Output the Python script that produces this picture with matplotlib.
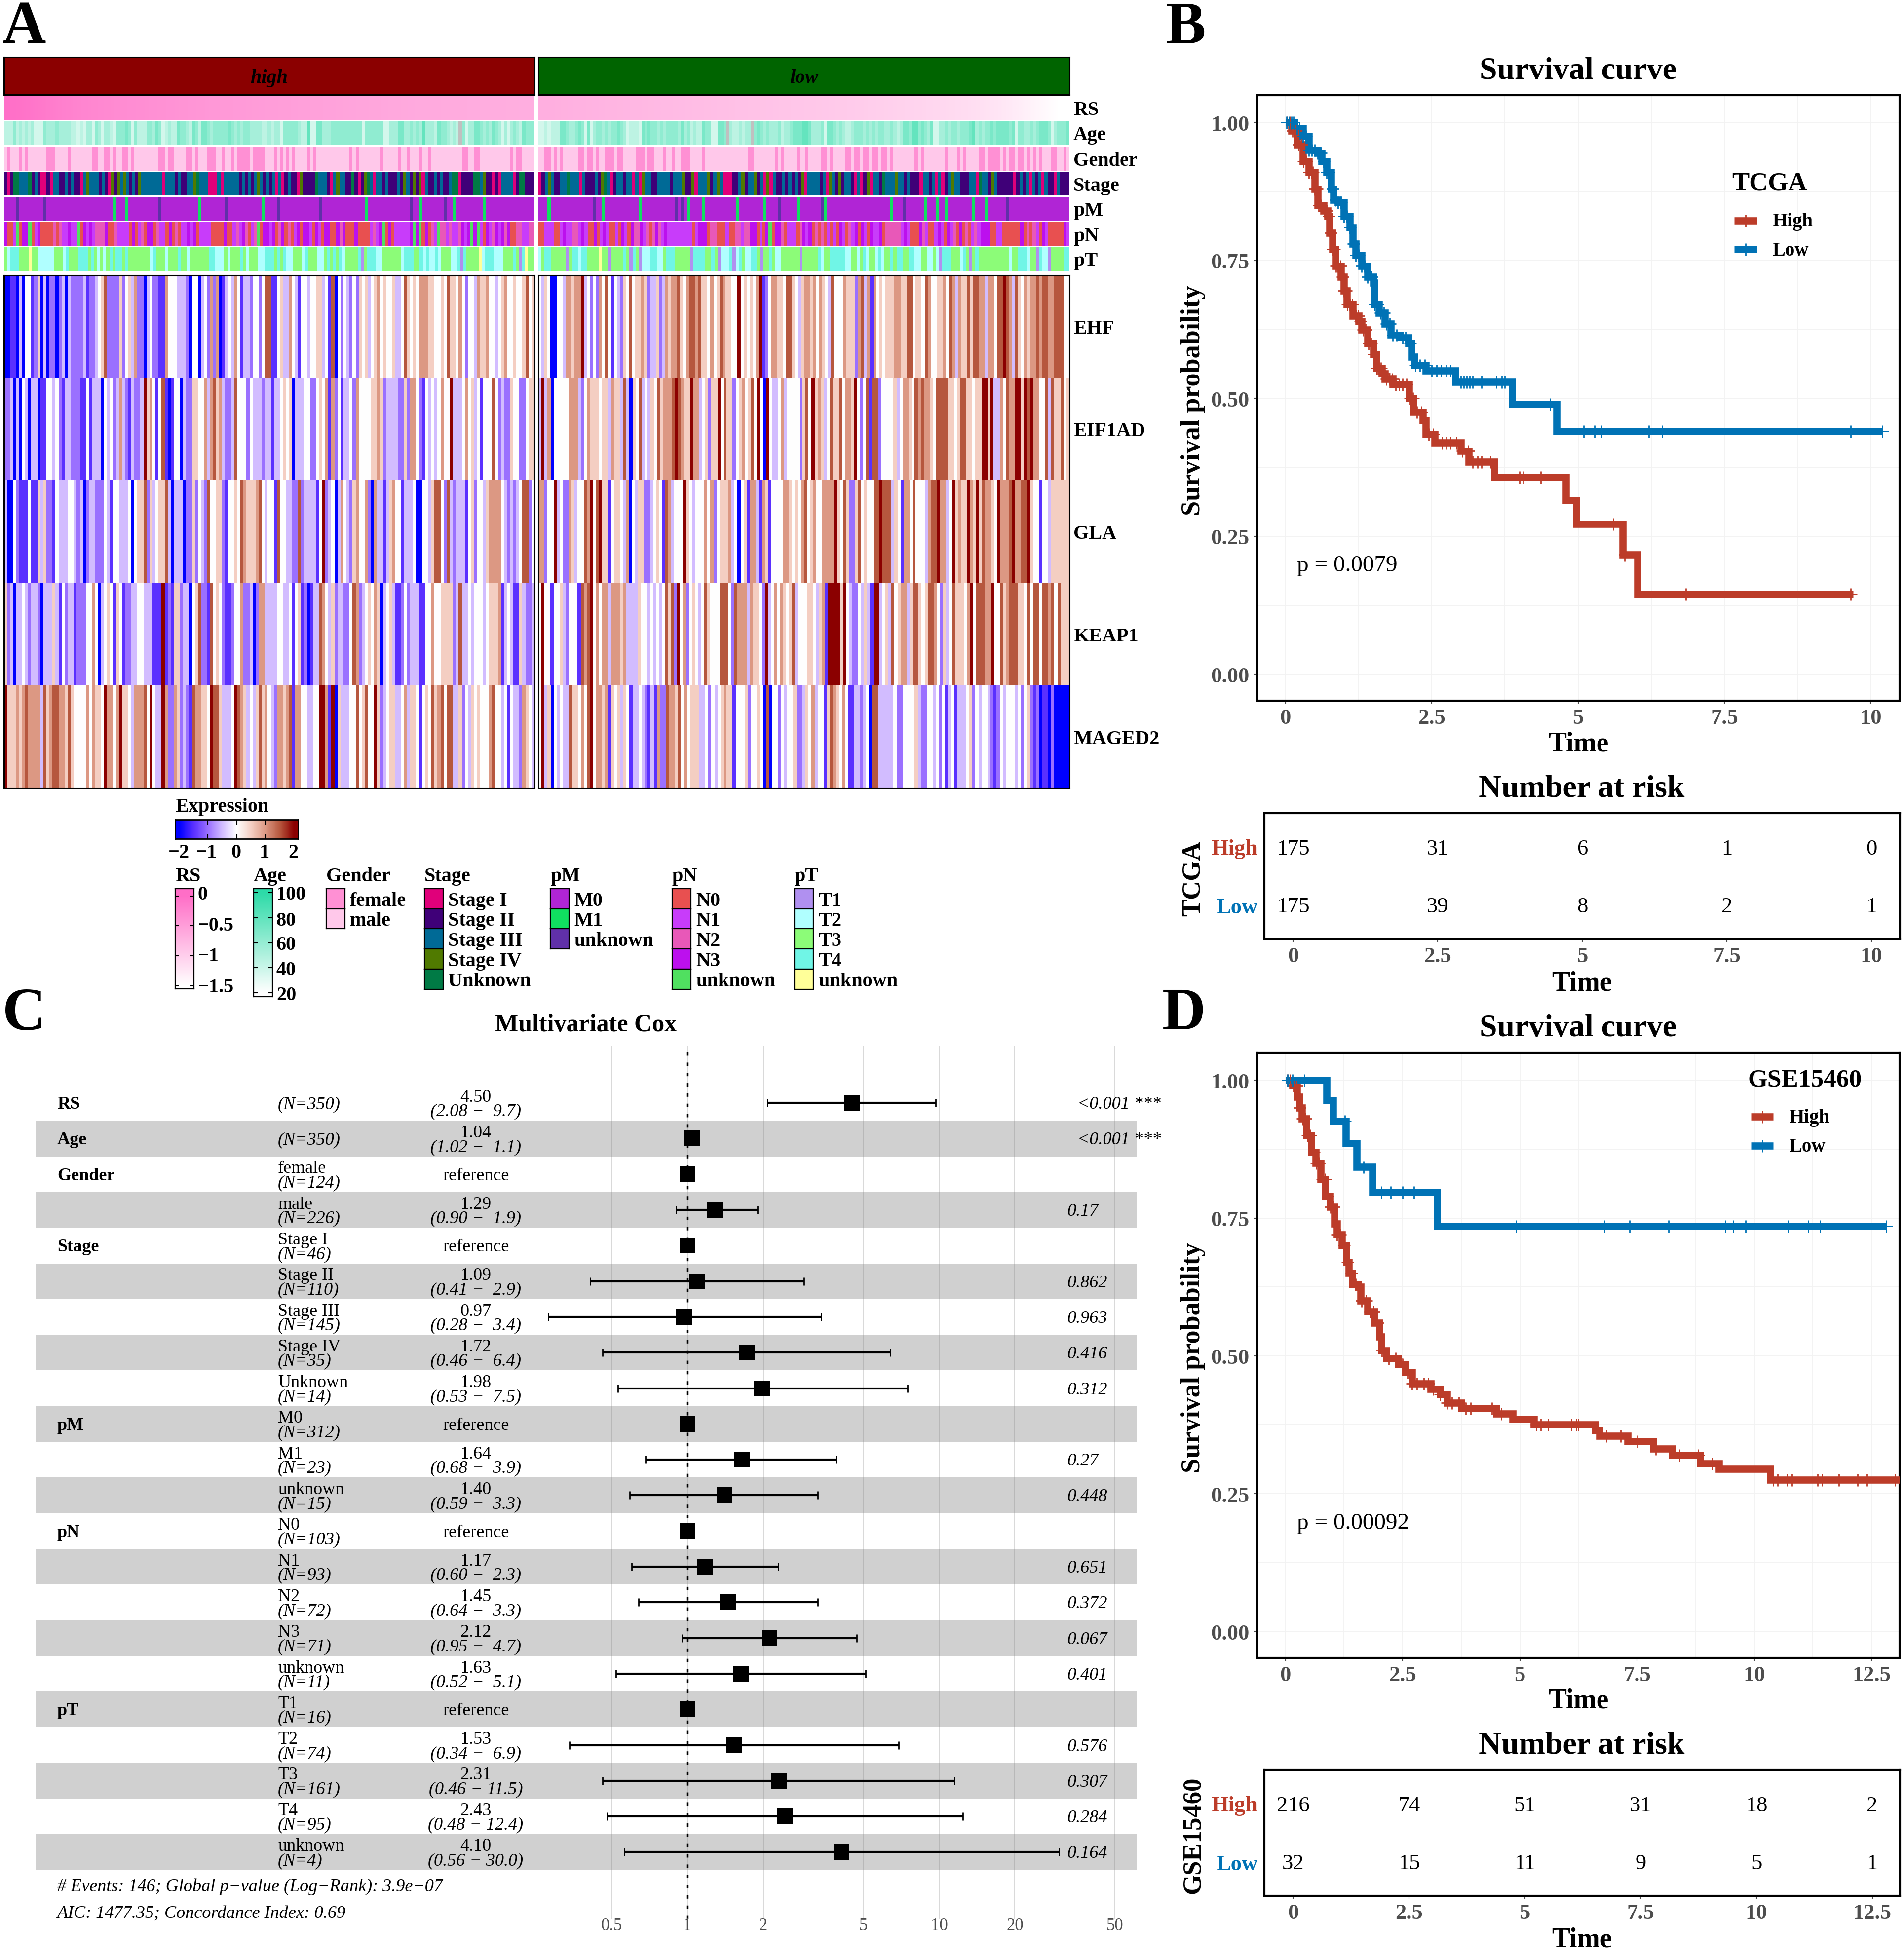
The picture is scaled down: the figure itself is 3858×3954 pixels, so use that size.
import numpy as np
import matplotlib
matplotlib.use('Agg')
import matplotlib.pyplot as plt
from matplotlib.colors import LinearSegmentedColormap, ListedColormap, Normalize
from matplotlib.lines import Line2D

W, H = 3858, 3955
plt.rcParams['font.family'] = ['Liberation Serif', 'DejaVu Serif']

# expression levels per sample, 0..8 means -2..2 in steps of 0.5
ehf_high = ("0011 0 3 0 44 12 5 0 3 0 22 0 2 3 0 3 2222 3 1 22 3 4 5 7 2222 5 2 4 5 3 6 22 0 3 4 22 11 6 4 44 3332 0 44 0 3 4 2 6 2 6 0 1 3 4 3 6 4 1 33 2 4 4 2 4 77"
            "1 1 4 5 33 6 4 3 1 44 3 4 4 5 5 3 4 1 7 0 4 2 4 3 2 4 2 5 4 5 3 4 5 6 4 5 44 5 33 4 7 5 4 5 4 6 66 55 4 4 5 4 7 5 5 4 6 4 2 4 4 3 6 5 5 6 4 4 34 5 6 44 54 4 5 7 45")
eif1ad_high = ("22 3 0 3 0 4 3 0 3 3 0 1 1 4 43 4 2 1 3 3 2 22 11 4 1 33 3 0 4 3 4 2 3 6 3 2 1 3 22 3 8 5 6 4 1 4 7 1 0 1 44 0 32 2 554 4 6 3 6 7 5 6 3 22 3 7 44 4 2 43 33 233"
               "1 33 4 5 4 5 0 33 3 44 22 4 5 4 6 1 6 2 4 1 3 3 4 2 6 4 4 4 4 5 56 5 2 3 3332 2 5 2 66 4 2 1 4 3 4 34 6 4 4 8 333 4 6 4 5 3 4 1 4 4 4 7 4 2 3 22 5 4 4 22 4 55")
gla_high = ("3 00 4 2 11 1 4 11 5 3 5 22 1 4 33 34 4 3 2 3 0 2 33 222 4 3 1 44 3 33 4 0 4 5 5 7 2 5 3 4 5 5 7 3 0 333 0 22 5 2 4 32 7 445 5 2 1 44 54 76 555 6 7 4 3 4"
            "4 1 7 4 43 3 22 7 2 3 333 1 4 8 23 4 0 3 6 43 2 5 6 44 6 2 0 6 3 3 1 3 5 6 44 1 33 3 4 00 4 4 3 5 77 4 2 7 3 2 33 3 1 45 2 4 4 3 5 6 666 4 3 2 3 2 3 4 77 2 4")
keap1_high = ("5 2 3 0 3 3 4 32332 0 33 3 5 3 1 4 2 33 1 222 44 6 4 0 3 4 5 4 1 5 4 122 33 443 33 111 8 1 2 1 55 2 33 0 4 5 7 221 7 454 2112 44 6 22 3 0 2 66 33"
              "3 3 44 33 4 1 4 5 12 0 1 3 3 7 6 4 3 5 2 33 22 4 7 6 2 3 4 5 4 6 5 0 3 4 5 3 112 4 233 3 11 44 6 44 5555 2 3 7 33 4 3 44 4 34 55 5 6 1 3 4 3 11 5 3 223")
maged2_high = ("8 555 6 5 6 7 666 6 3 7 5 6 7 7 66 5 7 5 4444 6 4 6 5 5 4 8 66 4 6 8 55 4 3 66 6 7 4 8 4 33 8 6 22 65 2 3 2 1 7 66 55 4 8 77 5 333 4 8 7 6 5 3 4 3 5 7 5 6 4"
               "3 2 6 6 56 7 1 66 44 33 44 88 6 1 8 0 5 3334 4 7 4 5 7 44 8 5 2 3 4 5 5 33 4 6 3 55 4 1 4 5 4 7 5 6 7 4 77 33 5 2 4 3 5 4 5 44 4 6 7 44 3 4 1 4 33 2 6 5 43")
ehf_low = ("4 3 5 4 00 4 43 66 5 66 8 3 4 2 4 2 6 4 7 4 1 4 3 2 5 4 7 4 5 5 6 5 2 33 5 23 6 5 6 6 7 5 4 67 767 55 4 6 4 5 7 6 55 4 4 8 4 5 4 5 4 6 8 1 2 4 66 5 5 4 77 5 435"
           "6 6 5 6 4 6 5 4 3 7 444 6 5 55 2 6 7 3 6 1 6 4 5 4 55 5 6 6 55 77 4 5 5 4 7 6 44 5 5 6 4 76 3 6 55 7 5 77 66 3 66 4 77 8 7 6 3 7 5 4 6 5 66 7 6 77 66 7 77 44")
eif1ad_low = ("3 8 3 6 0 44 444 6 6 6 3 2 4 65 5 5 4 55 3 6 55 3 7 3 0 5 4 7 3 4 3 54 7 5 666 7 8 7 6 55 8 66 34 5 2 55 8 4 7 55 2 4 5 6 4 5 7 4 8 4 0 8 4 3 3 4 6 3 4444 25"
              "7 4 8 5 6 5 3 4 7 5 5 7 4 66 5 8 4 2 4 7 1 77 2 444 4 5 3 4 66 5 4 7 6 7 665 4 7777 5 54 5 77 55 4 55 8 8 5 8 33 6 4 7 66 88 5 8 7 8 66 4 4 7 3 7 55 7 45")
gla_low = ("6 6 2 44 8 3 4 22 6 5 3 44 7 6 8 4 7 8 55 1 4 5 5 4 3 6 0 4 3 55 22 34 5 4 1 76 3 4 44 8 5 4 3 444 6 4 6 2 4 555 6 3 4 0 4 5 1 66 3 1 65 1 4 44 4 66 5 4 5 4 6"
           "7 4 5 6 44 6 666 8 5 4 7 5 22 5 7 45 44 77 8 777 3 5 4 1 66 4 7 444 3 677 8 66 3 4 8 5 6 55 8 6 5 8 5 7 66 5 4 8 666 7 8 66 7 7 8 5 4 4 1 44 3 5 55555")
keap1_low = ("4 8 44 1 44 53 2 444 1 7 6 7 8 4 6 4 66 3 6 66 5 6 333 3 5 44 3 4 3 4 3 4 7 5 7 2 8 4 6 2 4 5 4 3 4 7 5 4 44 777 4 2 76 66 3 6 55 4 2 8 3 4 6 4 6 5 4 5 7 3 44"
             "4 55 4 3 56 1 88 88 5 8 4 3 22 43 5 3 1 88 3 4 5 3 7 4 5 66 3 5 7 7 5 4 5 77 6 4 2 5 3 4 7 55 5 4 6 8 4 777 66 8 44 7 5 6 777 5 5 4 7 4 77 4 77 6 7 4 7 555")
maged2_low = ("4 8 3 5 0 4 3 4 33 7 5 5 4 6 4 7 8 4 66 5 6 1 5 4 5 3 5 4 1 33 4 3 2 1 3 1 6 22 7 66 5 7 4 6 4 5 55 33 4 2 4 3 4 5 6 55 1 444 5 2 4 4 5 4 0 7 0 44 2 4 3 445 223"
              "5 4 6 3 44 1 5 7 6 5 4 6 4 11 33 2 3 4 0 77 3 3 333 4 22 4444 5 3 22 44 3 4 2 4 1 3 4 1 33 3 45 2 4 3 44 3 2 1 2 4 3 44 4 3 4 2 45 2 1 2 0 11 0 2 00000")
genes = ['EHF', 'EIF1AD', 'GLA', 'KEAP1', 'MAGED2']
heat_high = [ehf_high, eif1ad_high, gla_high, keap1_high, maged2_high]
heat_low = [ehf_low, eif1ad_low, gla_low, keap1_low, maged2_low]

rs_high = [-0.03, -0.1, -0.18, -0.24, -0.28, -0.32, -0.35, -0.38, -0.41, -0.44, -0.46, -0.48,
           -0.5, -0.52, -0.54, -0.56, -0.58, -0.6, -0.62, -0.63, -0.64, -0.65, -0.66, -0.67]
rs_low = [-0.68, -0.7, -0.72, -0.74, -0.76, -0.78, -0.8, -0.82, -0.84, -0.86, -0.88, -0.9, -0.92,
          -0.94, -0.96, -0.99, -1.02, -1.05, -1.08, -1.12, -1.16, -1.22, -1.3, -1.4, -1.5]
# age in decades, x = missing
age_high = "555 7 5 65656 444 7666766 665 545 4 66 4 76 4 66 54 77787 4 7 5 55 77687 4 56 55 8 776 5 87 5 88 76777 7787 6767 76666 55 6566 4 77777 655 9 44 88 666 7777777777 4 777777 44 666 88 667676 9 6665 877 6565 x 74 66 887 676876 4 6 4 6765 8777"
age_low = "44 545 55 887 66 787 4 8 4 67 767677876 4 55 54 878776 7677776867 5655 877 44 887 x 65 56566 x 7876 766 67566788 8998 6667 4 88 7676 556 77 7676 76776 67656 887 99 78768 44 66767767 778 9 676778 7888878 4 776676 78887 4 67778"
female_high = [1, 5, 7, 14, 15, 16, 21, 29, 30, 33, 34, 36, 39, 40, 42, 51, 52, 54, 55, 60, 61, 63, 67, 68, 69, 72, 75, 77, 78, 79, 80, 82, 83, 84, 85, 89, 91, 93, 95, 100, 102, 114, 116, 124, 130, 133, 137, 140, 151, 152, 155, 156, 167, 169, 170]
female_low = [2, 3, 5, 7, 13, 14, 16, 17, 19, 22, 23, 24, 26, 27, 32, 33, 34, 36, 37, 41, 44, 47, 48, 49, 54, 69, 70, 78, 80, 85, 88, 93, 94, 96, 101, 102, 104, 105, 107, 108, 110, 111, 113, 114, 116, 124, 126, 134, 138, 140, 145, 146, 148, 149, 150, 151, 153, 155, 156, 158, 159, 161, 163, 165, 169, 170, 173]
stage_high = "2 1 2 5 5 3 3 3 5 2 3 2 11 2 1 33 22 3 2 3 22 1 3 4 333 2 3 2 1 4 2 4 3 4 3 2 3 2 4 3333333 1 333 2 3 22 33 4 5 333 111 3 1 33333 2 3 2 3 2 3 4 3 2 3 2 3 1 3 1 2 3 22 1 4 2222 5 333 2 1 3 4 33 22 5 2 1 2 45 3 1 33 2 3 222 3 2 4 3 2 4 2 4 1 3 22 3 2 3 22 3 55 1 2222 55 3 4 22 1 2 1 3333 1 2 55 222"
stage_low = "1 2 3 4 3 2 2 33 5 333 1 3 222 3 2 45 3 1 2 33 2 33 1 3 1 4 33 22 3333 2 333 4 22 4 1 333 4 2 3 4 3 111 22 3 4 2 33 4 2 3 1 4 1 3 22 3 2 3 2 3 2 4 1 3333 2 3 1 4 3 2 4 2 33 2 1 3 1 2 4 1 33 2 5 333 4 33 2 3 222 1 33 2 3 1 3 1 2 3 4 33 222 33 1 5 33 2 4 3 22 222 1 2 3 2 3 1 3 2 3 1 3 22 1 3 222"
m1_high = [36, 40, 64, 85, 119, 137, 148, 158]
mx_high = [4, 13, 51, 73, 90, 104, 134, 145]
m1_low = [3, 21, 33, 49, 54, 65, 74, 85, 94, 116, 127, 131, 134, 143, 147]
mx_low = [18, 45, 47, 79, 93, 120, 154]
pn_high = "3 00 1 4 0 33 4 0 13 0000 2 0 2 11 3 11 4 0 3 1 3 1 22 2 3 00 2 1111 0 3 0 1 2 0 33 0 2 11 0 3 0 2 0 11 3 1 3 0 1111 0000 3 00 1 2 1 3 2 0 1 2 4 0 33 13 02 3 0 2 0 1 3 0 331 0 3 10 33 00 3 2 3 000 3 0000 1 2 1 3 4 0 3 0 11111 3 4 3 4 03 0 2 1 4 2212 1123 13 43 4 1 031 2313 23 00 22 11 22"
pn_low = "00 1110 0 1 3 11 22 1 3 1 00 3 0 1 3 1 00 1 0 3 1 0 3 22 3 1 2 0 2 3 2 1 3 111 11111 0 1 333 0 22 000 1 00 22122 33 0 1 0 3 4 0 33 2 0 111 02 3 1 3 02 0 2 01 0 1 0 3 10 21 3 03 10 31130 2222 21 3 1 0 00 3 21 00 1 3 10 31 2 0 3 0 2 0 1 21 333 00 11 0000 00 3 02 0 21 0 3 10 0000 31"
pt_high = "3 2 444 333 5 33 22222 333 2 4 333 444 3 4 3 2 3 2 34 3 443 4 3 333333 2 4 333 2 333 433 2 333 333 44 222 3 2 333 43 2 333 22 444 3 4 3 4 22 333 24 333 22 3 4 3 4 3 4 2 3333 4 1 3 444 22 333333 2 444 33 4 2 4 22 42 333 224 1 43 333 5 2 444 222 3334 3 1 4 5 33"
pt_low = "2 3 44 3333 3 1 3 44 2 44 3333 5 33 1 3333 43 1 43 1 222 44 22 34 4433 33 3 1 4444 33 43 1 222 4 1 24 3 22 44 3 1 33 43 22 333333 1 33333 42 33 44444 22 33 2 34 2 33 2 42 33 43 44 33 44 22 33 22 32 1 444 333 24 3 1 34 33333 33333 2 33 444 2 331 422 13 333 44"

stage_cols = ['#e0007a', '#3f0078', '#006a96', '#507a00', '#007a45']
pm_cols = ['#b025d5', '#10e060', '#6030a8']
pn_cols = ['#e85050', '#c83cfa', '#e858b8', '#bc10ee', '#50e060']
pt_cols = ['#b090f0', '#b0ffff', '#8cfc78', '#70f5e6', '#ffff99']
gender_cols = ['#ffc8ea', '#ff90d4']
stage_names = ['Stage I', 'Stage II', 'Stage III', 'Stage IV', 'Unknown']
pm_names = ['M0', 'M1', 'unknown']
pn_names = ['N0', 'N1', 'N2', 'N3', 'unknown']
pt_names = ['T1', 'T2', 'T3', 'T4', 'unknown']

# forest plot
fr_var = ['RS', 'Age', 'Gender', '', 'Stage', '', '', '', '', 'pM', '', '', 'pN', '', '', '', '', 'pT', '', '', '', '']
fr_level = ['', '', 'female', 'male', 'Stage I', 'Stage II', 'Stage III', 'Stage IV', 'Unknown', 'M0', 'M1', 'unknown',
            'N0', 'N1', 'N2', 'N3', 'unknown', 'T1', 'T2', 'T3', 'T4', 'unknown']
fr_n = [350, 350, 124, 226, 46, 110, 145, 35, 14, 312, 23, 15, 103, 93, 72, 71, 11, 16, 74, 161, 95, 4]
fr_hr = [4.50, 1.04, 1, 1.29, 1, 1.09, 0.97, 1.72, 1.98, 1, 1.64, 1.40, 1, 1.17, 1.45, 2.12, 1.63, 1, 1.53, 2.31, 2.43, 4.10]
fr_lo = [2.08, 1.02, None, 0.90, None, 0.41, 0.28, 0.46, 0.53, None, 0.68, 0.59, None, 0.60, 0.64, 0.95, 0.52, None, 0.34, 0.46, 0.48, 0.56]
fr_hi = [9.7, 1.1, None, 1.9, None, 2.9, 3.4, 6.4, 7.5, None, 3.9, 3.3, None, 2.3, 3.3, 4.7, 5.1, None, 6.9, 11.5, 12.4, 30.0]
fr_p = ['<0.001', '<0.001', '', '0.17', '', '0.862', '0.963', '0.416', '0.312', '', '0.27', '0.448', '', '0.651', '0.372', '0.067', '0.401', '', '0.576', '0.307', '0.284', '0.164']
fr_ticks = [0.5, 1, 2, 5, 10, 20, 50]

# survival curves, TCGA
tcga_high_t = [0, 0.1, 0.2, 0.3, 0.4, 0.5, 0.55, 0.65, 0.72, 0.75, 0.8, 0.85, 0.95, 1.0, 1.05, 1.15, 1.25, 1.3, 1.4, 1.5, 1.55, 1.65, 1.7, 1.83, 2.11, 2.19, 2.35, 2.4, 2.55, 3.0, 3.13, 3.57, 4.79, 4.97, 5.76, 6.02, 9.7]
tcga_high_s = [1, 0.985, 0.96, 0.93, 0.91, 0.88, 0.85, 0.84, 0.83, 0.80, 0.77, 0.74, 0.72, 0.695, 0.67, 0.65, 0.64, 0.625, 0.60, 0.58, 0.555, 0.545, 0.535, 0.525, 0.50, 0.475, 0.46, 0.435, 0.42, 0.405, 0.385, 0.357, 0.315, 0.272, 0.217, 0.145, 0.145]
tcga_low_t = [0, 0.15, 0.3, 0.4, 0.55, 0.62, 0.7, 0.78, 0.82, 0.9, 1.0, 1.1, 1.15, 1.2, 1.3, 1.4, 1.5, 1.52, 1.6, 1.7, 1.8, 1.95, 2.1, 2.15, 2.2, 2.4, 2.9, 3.87, 4.63, 10.2]
tcga_low_s = [1, 0.99, 0.975, 0.95, 0.945, 0.93, 0.91, 0.88, 0.86, 0.855, 0.83, 0.81, 0.78, 0.76, 0.74, 0.72, 0.71, 0.67, 0.655, 0.635, 0.615, 0.61, 0.60, 0.575, 0.56, 0.55, 0.53, 0.49, 0.44, 0.44]
tcga_high_c = [0.03, 0.08, 0.12, 0.18, 0.22, 0.27, 0.31, 0.36, 0.4, 0.44, 0.47, 0.5, 0.53, 0.57, 0.6, 0.66, 0.7, 0.74, 0.77, 0.8, 0.83, 0.86, 0.9, 0.94, 0.97, 1.0, 1.03, 1.06, 1.1, 1.14, 1.2, 1.24, 1.28, 1.33, 1.37, 1.42, 1.46, 1.5, 1.55, 1.58, 1.63, 1.68, 1.72, 1.77, 1.82, 1.88, 1.94, 2.0, 2.07, 2.13, 2.18, 2.25, 2.32, 2.45, 2.52, 2.68, 2.75, 2.82, 2.92, 3.02, 3.12, 3.2, 3.28, 3.35, 3.5, 4.0, 4.06, 4.36, 5.6, 5.8, 6.84, 9.66]
tcga_low_c = [0.02, 0.06, 0.1, 0.14, 0.2, 0.24, 0.3, 0.35, 0.4, 0.45, 0.5, 0.55, 0.6, 0.65, 0.7, 0.74, 0.8, 0.85, 0.9, 0.95, 1.0, 1.05, 1.1, 1.16, 1.2, 1.25, 1.3, 1.35, 1.4, 1.47, 1.52, 1.57, 1.62, 1.68, 1.72, 1.78, 1.83, 1.9, 2.0, 2.05, 2.13, 2.22, 2.3, 2.38, 2.5, 2.58, 2.66, 2.75, 2.82, 3.0, 3.05, 3.1, 3.15, 3.2, 3.35, 3.6, 3.7, 3.75, 4.52, 5.1, 5.28, 5.4, 6.21, 6.44, 9.66, 10.2]
# survival curves, GSE15460
gse_high_t = [0, 0.15, 0.25, 0.3, 0.35, 0.45, 0.55, 0.65, 0.75, 0.85, 0.95, 1.05, 1.1, 1.2, 1.3, 1.35, 1.42, 1.55, 1.6, 1.75, 1.9, 2.0, 2.05, 2.15, 2.4, 2.55, 2.7, 3.1, 3.3, 3.45, 3.75, 4.5, 4.85, 5.3, 6.6, 6.7, 7.3, 7.85, 8.25, 8.85, 9.25, 10.34, 13.1]
gse_high_s = [1, 0.99, 0.97, 0.95, 0.93, 0.90, 0.87, 0.85, 0.82, 0.79, 0.77, 0.74, 0.72, 0.70, 0.67, 0.65, 0.63, 0.625, 0.60, 0.58, 0.56, 0.535, 0.51, 0.495, 0.485, 0.47, 0.45, 0.44, 0.43, 0.415, 0.405, 0.395, 0.385, 0.375, 0.365, 0.355, 0.345, 0.332, 0.32, 0.305, 0.295, 0.275, 0.275]
gse_low_t = [0, 0.88, 1.01, 1.29, 1.52, 1.855, 3.24, 12.8]
gse_low_s = [1, 0.964, 0.926, 0.886, 0.843, 0.797, 0.735, 0.735]
gse_high_c = [0.05, 0.1, 0.17, 0.23, 0.3, 0.36, 0.42, 0.47, 0.53, 0.6, 0.66, 0.72, 0.78, 0.84, 0.9, 0.96, 1.02, 1.1, 1.16, 1.24, 1.32, 1.4, 1.5, 1.62, 1.72, 1.8, 1.88, 1.96, 2.06, 2.2, 2.35, 2.5, 2.6, 2.7, 2.8, 2.95, 3.05, 3.15, 3.3, 3.45, 3.55, 3.7, 3.85, 3.95, 4.4, 4.6, 5.35, 5.45, 5.6, 6.1, 6.2, 6.25, 6.85, 7.15, 7.5, 7.9, 8.4, 8.8, 9.1, 10.4, 10.5, 10.7, 10.8, 11.35, 11.45, 11.8, 12.2, 12.4, 13.0]
gse_low_c = [0.05, 0.15, 0.4, 1.27, 1.67, 2.05, 2.25, 2.5, 2.74, 4.92, 6.8, 7.34, 8.17, 9.38, 9.55, 9.81, 10.72, 11.15, 11.4, 12.82]

tcga_times = [0, 2.5, 5, 7.5, 10]
tcga_risk_high = [175, 31, 6, 1, 0]
tcga_risk_low = [175, 39, 8, 2, 1]
gse_times = [0, 2.5, 5, 7.5, 10, 12.5]
gse_risk_high = [216, 74, 51, 31, 18, 2]
gse_risk_low = [32, 15, 11, 9, 5, 1]

RED = '#bc3c29'
BLUE = '#0072b5'
GRAY = '#4d4d4d'
KM_LW = 10.5

fig = plt.figure(figsize=(W / 100, H / 100), dpi=100)

def axpx(x0, y0, x1, y1, **kw):
    return fig.add_axes([x0 / W, 1 - y1 / H, (x1 - x0) / W, (y1 - y0) / H], **kw)

def ftext(x, y, s, size=29, weight='bold', ha='left', va='center', dy=4, **kw):
    return fig.text(x / W, 1 - (y + dy) / H, s, fontsize=size, fontweight=weight, ha=ha, va=va, **kw)

def codes(s):
    return np.array([int(c) for c in s.replace(' ', '')], dtype=float)

def bare(ax):
    ax.set_xticks([])
    ax.set_yticks([])
    for sp in ax.spines.values():
        sp.set_visible(False)

for (x, y, s) in [(5, 87, 'A'), (2362, 88, 'B'), (5, 2087, 'C'), (2355, 2086, 'D')]:
    ftext(x, y, s, size=88, va='baseline', dy=0)

# ---- panel A
heat_cmap = LinearSegmentedColormap.from_list('expr', ['#0000ff', '#5a30ff', '#9a70ff', '#d2bcff', '#ffffff',
                                                       '#f5d0c4', '#dd9a85', '#b85a40', '#8b0000'])
rs_cmap = LinearSegmentedColormap.from_list('rs', ['#ffffff', '#ff6ec7'])
age_cmap = LinearSegmentedColormap.from_list('age', ['#ffffff', '#2ddba8'])
age_cmap.set_bad('#c0c0c0')

groups = [('high', 8, 1083, '#8b0000', heat_high, rs_high, age_high, female_high, stage_high, m1_high, mx_high, pn_high, pt_high),
          ('low', 1091, 2167, '#006400', heat_low, rs_low, age_low, female_low, stage_low, m1_low, mx_low, pn_low, pt_low)]
tracks = [('RS', 195, 244), ('Age', 246, 295), ('Gender', 298, 347), ('Stage', 349, 397),
          ('pM', 400, 448), ('pN', 451, 499), ('pT', 502, 550)]

for name, x0, x1, col, heat, rs, age, fem, stage, m1, mx, pn, pt in groups:
    ax = axpx(x0, 117, x1, 193)
    ax.set_facecolor(col)
    ax.set_xticks([])
    ax.set_yticks([])
    for sp in ax.spines.values():
        sp.set_linewidth(2.2)
    ax.text(0.5, 0.45, name, transform=ax.transAxes, ha='center', va='center', fontsize=29, fontstyle='italic', fontweight='bold')

    gender = np.zeros(175)
    gender[fem] = 1
    pm = np.zeros(175)
    pm[m1] = 1
    pm[mx] = 2
    ages = np.array([np.nan if c == 'x' else float(c) * 10 for c in age.replace(' ', '')])
    rows = {
        'RS': (np.array(rs), rs_cmap, Normalize(-1.5, 0), 'bilinear'),
        'Age': (ages, age_cmap, Normalize(20, 115), 'nearest'),
        'Gender': (gender, ListedColormap(gender_cols), Normalize(0, 1), 'nearest'),
        'Stage': (codes(stage) - 1, ListedColormap(stage_cols), Normalize(0, 4), 'nearest'),
        'pM': (pm, ListedColormap(pm_cols), Normalize(0, 2), 'nearest'),
        'pN': (codes(pn), ListedColormap(pn_cols), Normalize(0, 4), 'nearest'),
        'pT': (codes(pt) - 1, ListedColormap(pt_cols), Normalize(0, 4), 'nearest'),
    }
    for tname, y0, y1 in tracks:
        vals, cm, norm, interp = rows[tname]
        ax = axpx(x0, y0, x1, y1)
        ax.imshow(vals[None, :], aspect='auto', cmap=cm, norm=norm, interpolation=interp)
        bare(ax)

    ax = axpx(x0, 559, x1, 1598)
    for i, s in enumerate(heat):
        vals = (codes(s) - 4) / 2
        ax.imshow(vals[None, :], aspect='auto', cmap=heat_cmap, vmin=-2, vmax=2,
                  extent=[0, 1, i + 1, i], interpolation='nearest')
    ax.set_xlim(0, 1)
    ax.set_ylim(5, 0)
    ax.set_xticks([])
    ax.set_yticks([])
    for sp in ax.spines.values():
        sp.set_linewidth(2.2)

for tname, y0, y1 in tracks:
    ftext(2175, (y0 + y1) / 2, tname)
for i, g in enumerate(genes):
    ftext(2175, 559 + 207.8 * (i + 0.5), g)

# heatmap legends
ftext(355, 1632, 'Expression')
ax = axpx(355, 1662, 604, 1701)
ax.imshow(np.linspace(-2.13, 2.13, 256)[None, :], aspect='auto', cmap=heat_cmap, vmin=-2, vmax=2, extent=[-2.13, 2.13, 0, 1])
ax.set_yticks([])
ax.set_xticks([-1, 0, 1])
ax.set_xticklabels([])
ax.tick_params(axis='x', direction='in', length=7, width=1.5, top=True)
for sp in ax.spines.values():
    sp.set_linewidth(2)
for v, x in zip(['\u22122', '\u22121', '0', '1', '2'], [362, 418, 479, 536, 594]):
    ftext(x, 1725, v, ha='center')

for (s, x) in [('RS', 355), ('Age', 514), ('Gender', 661), ('Stage', 860), ('pM', 1115), ('pN', 1362), ('pT', 1610)]:
    ftext(x, 1773, s)

ax = axpx(355, 1802, 393, 2005)
ax.imshow(np.linspace(0.12, -1.55, 256)[:, None], aspect='auto', cmap=rs_cmap, vmin=-1.5, vmax=0, extent=[0, 1, -1.55, 0.12])
ax.set_xticks([])
ax.set_yticks([0, -0.5, -1, -1.5])
ax.set_yticklabels([])
ax.tick_params(axis='y', direction='in', length=6, width=1.5, right=True)
for sp in ax.spines.values():
    sp.set_linewidth(1.6)
for s, y in [('0', 1810), ('\u22120.5', 1873), ('\u22121', 1935), ('\u22121.5', 1998)]:
    ftext(401, y, s)

ax = axpx(514, 1802, 552, 2021)
ax.imshow(np.linspace(103, 17, 256)[:, None], aspect='auto', cmap=age_cmap, vmin=20, vmax=100, extent=[0, 1, 17, 103])
ax.set_xticks([])
ax.set_yticks([20, 40, 60, 80, 100])
ax.set_yticklabels([])
ax.tick_params(axis='y', direction='in', length=6, width=1.5, right=True)
for sp in ax.spines.values():
    sp.set_linewidth(1.6)
for s, y in [('100', 1810), ('80', 1862), ('60', 1912), ('40', 1963), ('20', 2014)]:
    ftext(560, y, s)

def swatches(x, names, cols):
    for i, (n, c) in enumerate(zip(names, cols)):
        y0 = 1802 + 40.7 * i
        ax = axpx(x, y0, x + 38, y0 + 40.7)
        ax.set_facecolor(c)
        ax.set_xticks([])
        ax.set_yticks([])
        for sp in ax.spines.values():
            sp.set_linewidth(1.6)
        ftext(x + 48, y0 + 20.3, n)

swatches(661, ['female', 'male'], gender_cols[::-1])
swatches(860, stage_names, stage_cols)
swatches(1115, pm_names, pm_cols)
swatches(1362, pn_names, pn_cols)
swatches(1610, pt_names, pt_cols)

# ---- panel C
ax = axpx(72, 2120, 2303, 3890)
ax.set_xscale('log', base=2)
ax.set_xlim(2 ** ((72 - 1393) / 153.5), 2 ** ((2303 - 1393) / 153.5))
ax.set_ylim((3890 - 2200) / 72.3, (2120 - 2200) / 72.3)
for sp in ax.spines.values():
    sp.set_visible(False)
ax.set_xticks(fr_ticks)
ax.set_xticklabels([str(t) for t in fr_ticks], color=GRAY, fontsize=25)
ax.minorticks_off()
ax.set_yticks([])
ax.tick_params(axis='x', length=0, pad=-2)
tr = ax.get_yaxis_transform()

def fx(px):
    return (px - 72) / (2303 - 72)

TXT = 0.035  # text sits a little under the row centre
for i in range(len(fr_hr)):
    if i % 2 == 1:
        ax.axhspan(i, i + 1, color='#d0d0d0', lw=0, zorder=0)
for t in fr_ticks:
    ax.axvline(t, color='#808080', alpha=0.3, lw=1.4, zorder=1)
ax.axvline(1, color='black', ls=(0, (2, 4)), lw=2.5, zorder=1)
for i, hr in enumerate(fr_hr):
    yc = i + 0.5
    yt = yc + TXT
    if fr_lo[i] is not None:
        ax.plot([fr_lo[i], fr_hi[i]], [yc, yc], color='black', lw=3, zorder=3, solid_capstyle='butt')
        ax.plot([fr_lo[i], fr_hi[i]], [yc, yc], ls='', marker='|', color='black', ms=11, mew=2, zorder=3)
    ax.plot([hr], [yc], marker='s', color='black', ms=23, mew=0, zorder=4)
    if fr_var[i]:
        ax.text(fx(116), yt, fr_var[i], transform=tr, fontsize=26, fontweight='bold', va='center')
    n = '(N=%d)' % fr_n[i]
    if fr_level[i]:
        ax.text(fx(563), yt - 0.2, fr_level[i], transform=tr, fontsize=26, va='center')
        ax.text(fx(563), yt + 0.2, n, transform=tr, fontsize=26, fontstyle='italic', va='center')
    else:
        ax.text(fx(563), yt, n, transform=tr, fontsize=26, fontstyle='italic', va='center')
    if fr_lo[i] is None:
        ax.text(fx(964), yt, 'reference', transform=tr, fontsize=26, ha='center', va='center')
    else:
        ax.text(fx(964), yt - 0.2, '%.2f' % hr, transform=tr, fontsize=26, ha='center', va='center')
        ax.text(fx(964), yt + 0.2, '(%.2f \u2212 %4.1f)' % (fr_lo[i], fr_hi[i]), transform=tr, fontsize=26, fontstyle='italic', ha='center', va='center')
    if fr_p[i].startswith('<'):
        ax.text(fx(2183), yt, fr_p[i] + ' ***', transform=tr, fontsize=26, fontstyle='italic', va='center', clip_on=False)
    elif fr_p[i]:
        ax.text(fx(2163), yt, fr_p[i], transform=tr, fontsize=26, fontstyle='italic', va='center')

ftext(1187, 2074, 'Multivariate Cox', size=36, ha='center')
ftext(116, 3820, '# Events: 146; Global p\u2212value (Log\u2212Rank): 3.9e\u221207', size=26, weight='normal', fontstyle='italic')
ftext(116, 3874, 'AIC: 1477.35; Concordance Index: 0.69', size=26, weight='normal', fontstyle='italic')

# ---- panels B and D
def km_panel(y0, y1, xlim, times, high_t, high_s, low_t, low_s, high_c, low_c, ptext, py, title_y, time_y):
    ax = axpx(2547, y0, 3849, y1)
    ax.set_xlim(*xlim)
    ax.set_ylim(-0.048, 1.0495)
    ax.set_xticks(times)
    ax.set_xticklabels(['%g' % t for t in times])
    ax.set_yticks([0, 0.25, 0.5, 0.75, 1])
    ax.set_yticklabels(['0.00', '0.25', '0.50', '0.75', '1.00'])
    mids_x = [(a + b) / 2 for a, b in zip(times[:-1], times[1:])]
    ax.set_xticks(mids_x, minor=True)
    ax.set_yticks([0.125, 0.375, 0.625, 0.875], minor=True)
    ax.grid(True, which='both', color='#f2f2f2', lw=1.3, zorder=0)
    ax.tick_params(which='minor', length=0)
    ax.tick_params(which='major', length=5, width=1.5, color=GRAY, labelcolor=GRAY, labelsize=32, pad=6)
    for lab in ax.get_xticklabels() + ax.get_yticklabels():
        lab.set_fontweight('bold')
    for sp in ax.spines.values():
        sp.set_linewidth(3)
    for t, s, c, col in [(high_t, high_s, high_c, RED), (low_t, low_s, low_c, BLUE)]:
        t = np.array(t)
        s = np.array(s)
        ax.step(t, s, where='post', color=col, lw=KM_LW, solid_capstyle='butt', solid_joinstyle='miter', zorder=3)
        idx = np.clip(np.searchsorted(t, c, side='right') - 1, 0, len(s) - 1)
        ax.plot(c, s[idx], ls='', marker='+', color=col, ms=18, mew=2, zorder=4)
    ftext(2628, py, ptext, size=34, weight='normal')
    ftext(3198, title_y, 'Survival curve', size=46, ha='center')
    ftext(3198, time_y, 'Time', size=40, ha='center')
    ftext(2418, (y0 + y1) / 2, 'Survival probability', size=39, ha='center', rotation=90)
    return ax

km_panel(194, 1421, (-0.487, 10.495), tcga_times, tcga_high_t, tcga_high_s, tcga_low_t, tcga_low_s,
         tcga_high_c, tcga_low_c, 'p = 0.0079', 1143, 141, 1505)
km_panel(2135, 3361, (-0.608, 13.1), gse_times, gse_high_t, gse_high_s, gse_low_t, gse_low_s,
         gse_high_c, gse_low_c, 'p = 0.00092', 3084, 2081, 3444)

def km_legend(title, size, tx, ty, kx0, kx1, lx, y1, y2):
    ftext(tx, ty, title, size=size)
    for y, s, col in [(y1, 'High', RED), (y2, 'Low', BLUE)]:
        ky = 1 - (y + 2) / H
        fig.add_artist(Line2D([kx0 / W, kx1 / W], [ky, ky], color=col, lw=KM_LW, solid_capstyle='butt'))
        fig.add_artist(Line2D([(kx0 + kx1) / 2 / W], [ky], color=col, marker='+', ms=18, mew=2, ls=''))
        ftext(lx, y, s, size=28)

km_legend('TCGA', 38, 3509, 368, 3514, 3560, 3591, 446, 504)
km_legend('GSE15460', 37, 3541, 2186, 3548, 3593, 3625, 2262, 2321)

def risk_table(y0, y1, xlim, times, high, low, label, lsize, y_high, y_low, title_y, time_y):
    ax = axpx(2562, y0, 3850, y1)
    ax.set_xlim(*xlim)
    ax.set_ylim(y1, y0)
    ax.set_xticks(times)
    ax.set_xticklabels(['%g' % t for t in times], fontsize=32, fontweight='bold', color=GRAY)
    ax.set_yticks([])
    ax.tick_params(axis='x', length=5, width=1.5, color=GRAY, pad=6)
    for sp in ax.spines.values():
        sp.set_linewidth(3)
    for t, a, b in zip(times, high, low):
        ax.text(t, y_high + 4, str(a), fontsize=32, ha='center', va='center')
        ax.text(t, y_low + 2, str(b), fontsize=32, ha='center', va='center')
    ftext(2548, y_high, 'High', size=32, ha='right', color=RED)
    ftext(2548, y_low, 'Low', size=32, ha='right', color=BLUE)
    ftext(2418, (y0 + y1) / 2, label, size=lsize, ha='center', rotation=90)
    ftext(3205, title_y, 'Number at risk', size=46, ha='center')
    ftext(3205, time_y, 'Time', size=40, ha='center')

risk_table(1649, 1904, (-0.495, 10.495), tcga_times, tcga_risk_high, tcga_risk_low, 'TCGA', 38, 1717, 1836, 1596, 1990)
risk_table(3588, 3843, (-0.62, 13.1), gse_times, gse_risk_high, gse_risk_low, 'GSE15460', 38, 3656, 3775, 3535, 3928)

fig.savefig('out.png', dpi=100)
